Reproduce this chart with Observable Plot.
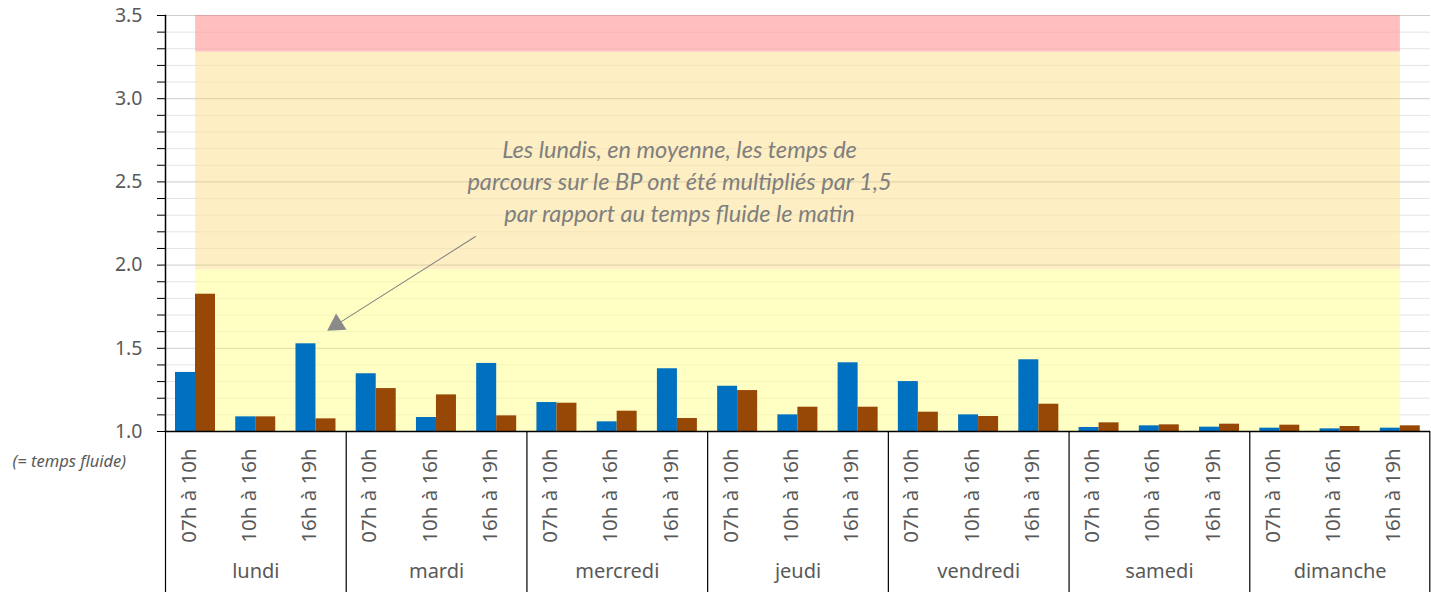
<!DOCTYPE html>
<html><head><meta charset="utf-8">
<script src="https://cdn.jsdelivr.net/npm/d3@7"></script>
<script src="https://cdn.jsdelivr.net/npm/@observablehq/plot@0.6"></script>
<style>body{margin:0;background:#fff}#chart{position:absolute;left:0;top:0}</style>
</head><body><div id="chart"></div>
<script>
const days = ["lundi","mardi","mercredi","jeudi","vendredi","samedi","dimanche"];
const slots = ["07h à 10h","10h à 16h","16h à 19h"];
const valeursBleues = [1.355,1.088,1.527, 1.347,1.084,1.409, 1.174,1.058,1.377, 1.272,1.100,1.413, 1.300,1.100,1.431, 1.024,1.034,1.026, 1.020,1.016,1.020];
const valeursBrunes = [1.825,1.088,1.076, 1.258,1.220,1.094, 1.170,1.122,1.078, 1.246,1.146,1.146, 1.116,1.090,1.164, 1.052,1.040,1.044, 1.038,1.030,1.034];
const yTicks = [1.0,1.5,2.0,2.5,3.0,3.5];
const yMinorTicks = d3.range(0,26).map(i => 1 + i/10);
const bandLimits = [1.0, 1.97, 3.28, 3.5];
const bandColors = ["#ffffc0","#fdedc0","#ffbcbc"];
const annotationText = "Les lundis, en moyenne, les temps de\nparcours sur le BP ont été multipliés par 1,5\npar rapport au temps fluide le matin";
const yLabel = "(= temps fluide)";

const W = 1431, H = 592, mL = 165, mR = 1, mT = 15, mB = 161;
const keys = [];
const rows = [];
days.forEach((d, di) => slots.forEach((s, si) => {
  const k = d + "|" + s; keys.push(k);
  rows.push({key: k, day: d, slot: s, bleu: valeursBleues[di*3+si], brun: valeursBrunes[di*3+si]});
}));
const bw = (W - mL - mR) / keys.length;
const bands = [];
bandColors.forEach((c, i) => keys.forEach(k => bands.push({key: k, band: i, lo: bandLimits[i], hi: bandLimits[i+1], color: c})));

const chart = Plot.plot({
  width: W, height: H, marginLeft: mL, marginRight: mR, marginTop: mT, marginBottom: mB,
  style: {fontFamily: "'Noto Sans', sans-serif", background: "#fff", overflow: "visible"},
  x: {domain: keys, padding: 0, round: false, axis: null},
  y: {domain: [1, 3.5], axis: null},
  marks: [
    Plot.gridY({ticks: yMinorTicks, stroke: "#000", strokeOpacity: 0.07}),
    ...bandColors.map((c, i) => Plot.areaY(bands.filter(b => b.band === i), {x: "key", y1: "lo", y2: "hi", fill: c, fillOpacity: 0.95})),
    Plot.gridY({ticks: yMinorTicks, stroke: "#000", strokeOpacity: 0.045}),
    Plot.gridY({ticks: yTicks, stroke: "#000", strokeOpacity: 0.09}),
    Plot.barY(rows, {x: "key", y1: 1, y2: "bleu", fill: "#0070c0", insetLeft: 10, insetRight: bw - 30}),
    Plot.barY(rows, {x: "key", y1: 1, y2: "brun", fill: "#974706", insetLeft: 30, insetRight: bw - 50}),
    Plot.ruleY([1], {stroke: "#000", strokeWidth: 1.5}),
    Plot.frame({anchor: "left", stroke: "#000", strokeWidth: 1.5}),
    Plot.axisY({ticks: yMinorTicks, tickSize: 8, tickFormat: () => "", stroke: "#000"}),
    Plot.axisY({ticks: yTicks, tickSize: 0, tickPadding: 23, tickFormat: d3.format(".1f"), fill: "#595959", fontSize: 19.5}),
    Plot.text(rows, {x: "key", text: "slot", frameAnchor: "bottom", dy: 64, rotate: -90, fontSize: 20.5, fill: "#595959"}),
    Plot.text(days, {x: d => d + "|" + slots[1], text: d => d, frameAnchor: "bottom", dy: 146, fontSize: 20, fill: "#595959"}),
    Plot.ruleX(days.map(d => d + "|" + slots[0]), {x: d => d, dx: -bw/2, insetTop: H - mT - mB, insetBottom: -mB, stroke: "#000", strokeWidth: 1.2}),
    Plot.ruleX([keys[keys.length-1]], {x: d => d, dx: bw/2 - 0.7, insetTop: H - mT - mB, insetBottom: -mB, stroke: "#000", strokeWidth: 1.2}),
    Plot.text([yLabel], {frameAnchor: "bottom-left", dx: -153, dy: 35, textAnchor: "start", fontStyle: "italic", fontSize: 16.5, fill: "#595959"}),
    Plot.text([annotationText], {x: () => keys[8], y: () => 2.512, dx: 2, text: d => d, lineHeight: 1.34, fontSize: 23.6, fontStyle: "italic", fill: "#7f7f7f", fontFamily: "Lato"}),
    Plot.vector([0], {x: () => keys[2], y: () => 1.642, dx: 20.5, anchor: "end", length: 164.5, rotate: 237.6, r: 0.01, stroke: "#808080", strokeWidth: 1}),
    Plot.dot([0], {x: () => keys[2], y: () => 1.642, dx: 20.5, symbol: "triangle", r: 7.2, rotate: 237.4, fill: "#8a8a8a", stroke: "none"})
  ]
});
document.getElementById("chart").append(chart);
</script></body></html>
